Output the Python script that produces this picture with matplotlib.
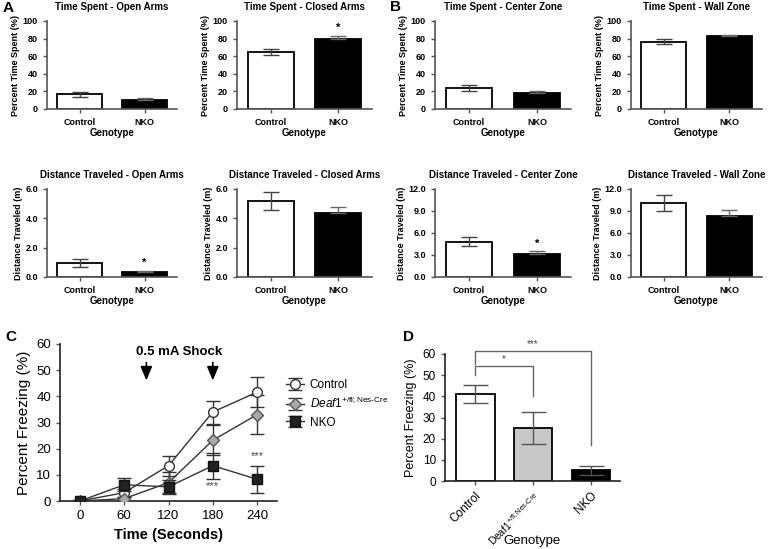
import numpy as np
import matplotlib
matplotlib.use("Agg")
import matplotlib.pyplot as plt

plt.rcParams['font.family'] = ['Liberation Sans', 'DejaVu Sans']
plt.rcParams['mathtext.fontset'] = 'custom'
plt.rcParams['mathtext.rm'] = 'Liberation Sans'
plt.rcParams['mathtext.it'] = 'Liberation Sans:italic'

W, H = 768, 549

# ---- data ----
groups = ['Control', 'NKO']

time_titles = ['Time Spent - Open Arms', 'Time Spent - Closed Arms',
               'Time Spent - Center Zone', 'Time Spent - Wall Zone']
time_means = [[16.5, 10.5], [65.0, 79.5], [24.0, 18.5], [76.5, 83.0]]
time_errs = [[2.5, 2.0], [3.5, 3.5], [3.3, 1.7], [3.0, 1.5]]
time_stars = [None, '*', None, None]

dist_titles = ['Distance Traveled - Open Arms', 'Distance Traveled - Closed Arms',
               'Distance Traveled - Center Zone', 'Distance Traveled - Wall Zone']
dist_means = [[0.97, 0.35], [5.2, 4.35], [4.8, 3.15], [10.1, 8.3]]
dist_errs = [[0.27, 0.07], [0.6, 0.45], [0.6, 0.35], [1.1, 0.8]]
dist_ymax = [6.0, 6.0, 12.0, 12.0]
dist_stars = ['*', None, '*', None]

time_s = [0, 60, 120, 180, 240]
frz_ctrl = [0.0, 3.2, 13.5, 34.0, 41.6]
frz_ctrl_err = [0.5, 1.5, 3.8, 4.4, 5.7]
frz_het = [0.0, 0.9, 7.0, 23.2, 33.0]
frz_het_err = [0.3, 0.8, 4.0, 5.8, 7.4]
frz_nko = [0.0, 6.2, 5.4, 13.5, 8.3]
frz_nko_err = [0.5, 2.4, 2.8, 5.0, 5.1]

d_groups = ['Control', 'Deaf1$^{\\mathrm{+/fl;Nes\u2010Cre}}$', 'NKO']
d_means = [41.0, 25.0, 5.0]
d_errs = [4.2, 7.6, 2.3]
d_colors = ['white', '#c8c8c8', 'black']

het_label = '$\\mathit{Deaf1}^{\\mathrm{+/fl;Nes\u2010Cre}}$'

fig = plt.figure(figsize=(W / 100, H / 100), dpi=100)


def px_axes(l, t, r, b):
    return fig.add_axes([l / W, 1 - b / H, (r - l) / W, (b - t) / H])


def style(ax, fs):
    for s in ['top', 'right']:
        ax.spines[s].set_visible(False)
    for s in ['left', 'bottom']:
        ax.spines[s].set_color('#555555')
        ax.spines[s].set_linewidth(1.2)
    ax.tick_params(colors='#555555', labelcolor='black', labelsize=fs, length=3, width=1)


def small_bar(ax, means, errs, ymax, yticks, fmt, title, ylabel, star):
    x = np.arange(len(groups))
    ax.bar(x, means, width=0.68, color=['white', 'black'], edgecolor='black', linewidth=1.3, zorder=2)
    ax.errorbar(x[0], means[0], yerr=errs[0], fmt='none', ecolor='#444444', elinewidth=1,
                capsize=6, capthick=1, zorder=3)
    ax.errorbar(x[1], means[1], yerr=[[0], [errs[1]]], fmt='none', ecolor='#666666', elinewidth=1,
                capsize=6, capthick=1, zorder=3)
    ax.set_xlim(-0.5, 1.5)
    ax.set_ylim(0, ymax)
    ax.set_yticks(yticks)
    ax.set_yticklabels([fmt % v for v in yticks], fontweight='bold')
    ax.set_xticks(x)
    ax.set_xticklabels(groups, fontweight='bold')
    style(ax, 6.5)
    ax.set_title(title, fontsize=7, fontweight='bold', pad=8)
    ax.set_ylabel(ylabel, fontsize=6.5, fontweight='bold', labelpad=2)
    ax.set_xlabel('Genotype', fontsize=7, fontweight='bold', labelpad=1)
    if star:
        ax.text(1, means[1] + errs[1] + ymax * 0.03, star, ha='center', va='bottom',
                fontsize=8, fontweight='bold')


# ---- top rows ----
col_px = [(47, 177), (237, 372), (435, 571), (631, 762)]
for i, (l, r) in enumerate(col_px):
    ax = px_axes(l, 21, r, 109)
    small_bar(ax, time_means[i], time_errs[i], 100, [0, 20, 40, 60, 80, 100], '%d',
              time_titles[i], 'Percent Time Spent (%)', time_stars[i])
    ax2 = px_axes(l, 189, r, 277)
    ym = dist_ymax[i]
    small_bar(ax2, dist_means[i], dist_errs[i], ym, list(np.linspace(0, ym, 4 if ym == 6 else 5)),
              '%.1f', dist_titles[i], 'Distance Traveled (m)', dist_stars[i])

fig.text(3 / W, 1 - 8 / H, 'A', fontsize=11, fontweight='bold', va='center')
fig.text(390 / W, 1 - 7 / H, 'B', fontsize=11, fontweight='bold', va='center')

# ---- panel C ----
axc = px_axes(60, 344, 277, 501)
line_c = '#333333'
axc.errorbar(time_s, frz_ctrl, yerr=frz_ctrl_err, color=line_c, marker='o', ms=7, mfc='white',
             mec='#333333', lw=1, capsize=5, elinewidth=1, label='Control', zorder=3)
axc.errorbar(time_s, frz_het, yerr=frz_het_err, color=line_c, marker='D', ms=6.5, mfc='#a8a8a8',
             mec='#555555', lw=1, capsize=5, elinewidth=1, label=het_label, zorder=3)
axc.errorbar(time_s, frz_nko, yerr=frz_nko_err, color=line_c, marker='s', ms=6.5, mfc='#222222',
             mec='#111111', lw=1, capsize=5, elinewidth=1, label='NKO', zorder=4)
axc.set_xlim(-27, 267)
axc.set_ylim(0, 60)
axc.set_xticks(time_s)
axc.set_yticks(range(0, 61, 10))
style(axc, 9.5)
axc.spines['left'].set_color('#222222')
axc.spines['bottom'].set_color('#222222')
axc.set_ylabel('Percent Freezing (%)', fontsize=11, labelpad=4)
axc.set_xlabel('Time (Seconds)', fontsize=10.5, fontweight='bold', labelpad=4)
for xa in [90, 180]:
    axc.annotate('', xy=(xa, 45), xytext=(xa, 54),
                 arrowprops=dict(arrowstyle='-|>,head_length=0.6,head_width=0.25',
                                 color='black', lw=1.2, mutation_scale=14))
axc.text(135, 56.8, '0.5 mA Shock', ha='center', va='center', fontsize=9.5, fontweight='bold')
axc.text(180, 5.8, '***', ha='center', va='center', fontsize=8, color='#444444')
axc.text(240, 17.0, '***', ha='center', va='center', fontsize=8, color='#444444')
axc.legend(loc='center left', bbox_to_anchor=(1.02, 0.62), frameon=False, fontsize=8.5,
           handlelength=1.5, handletextpad=0.5, labelspacing=0.45, borderaxespad=0)
fig.text(5 / W, 1 - 337 / H, 'C', fontsize=11, fontweight='bold', va='center')

# ---- panel D ----
axd = px_axes(445, 354, 620, 481)
xd = np.arange(len(d_groups))
axd.bar(xd, d_means, width=0.67, color=d_colors, edgecolor='black', linewidth=1.3, zorder=2)
for i in range(len(xd)):
    axd.errorbar(xd[i], d_means[i], yerr=d_errs[i], fmt='none', ecolor='#555555',
                 elinewidth=1, capsize=9, capthick=1, zorder=3)
axd.set_xlim(-0.52, 2.5)
axd.set_ylim(0, 60)
axd.set_yticks(range(0, 61, 10))
axd.set_xticks(xd)
style(axd, 8.5)
axd.set_xticklabels(d_groups, rotation=45, ha='right', rotation_mode='anchor', fontsize=8.5)
axd.get_xticklabels()[1].set_fontsize(7.3)
axd.spines['left'].set_color('#222222')
axd.spines['bottom'].set_color('#222222')
axd.set_ylabel('Percent Freezing (%)', fontsize=9, labelpad=4)
axd.set_xlabel('Genotype', fontsize=9.5, va='center')
axd.xaxis.set_label_coords(0.5, -0.47)
br = '#666666'
axd.plot([0, 0, 1, 1], [50, 54.3, 54.3, 40], color=br, lw=1, clip_on=False)
axd.text(0.5, 55.3, '*', ha='center', va='bottom', fontsize=7, color='#444444')
axd.plot([0, 0, 2, 2], [55.5, 61.5, 61.5, 17], color=br, lw=1, clip_on=False)
axd.text(1, 62.5, '***', ha='center', va='bottom', fontsize=7, color='#444444')
fig.text(403 / W, 1 - 337 / H, 'D', fontsize=11, fontweight='bold', va='center')

fig.savefig('out.png', dpi=100, facecolor='white')
